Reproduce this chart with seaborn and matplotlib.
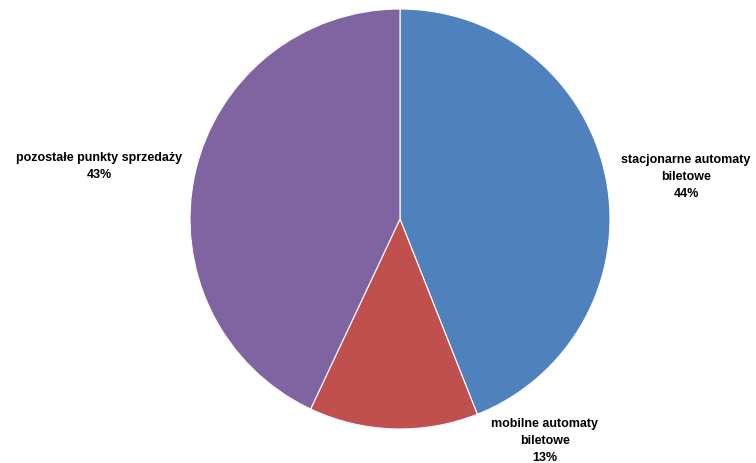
import matplotlib
matplotlib.use('Agg')
import matplotlib.pyplot as plt
import seaborn as sns

# Dane
categories = ['stacjonarne automaty\nbiletowe', 'mobilne automaty\nbiletowe', 'pozostałe punkty sprzedaży']
shares = [44, 13, 43]
colors = ['#4F81BD', '#C0504D', '#8064A2']

sns.set_style('white')
plt.rcParams['font.family'] = ['Liberation Sans', 'DejaVu Sans']

fig = plt.figure(figsize=(7.56, 4.64), dpi=100)
ax = fig.add_axes([190 / 756, 34 / 464, 420 / 756, 420 / 464])

ax.pie(shares, colors=colors, startangle=90, counterclock=False,
       wedgeprops={'edgecolor': 'white', 'linewidth': 0.8})

# Pozycje etykiet
label_pos = [(1.362, 0.205), (0.690, -1.052), (-1.431, 0.257)]
for cat, val, (x, y) in zip(categories, shares, label_pos):
    ax.text(x, y, f'{cat}\n{val}%', ha='center', va='center',
            fontsize=9, fontweight='bold', linespacing=1.55, color='black')

ax.set_xlim(-1, 1)
ax.set_ylim(-1, 1)
ax.set_aspect('equal')
ax.axis('off')

fig.savefig('out.png', dpi=100)
plt.close()
